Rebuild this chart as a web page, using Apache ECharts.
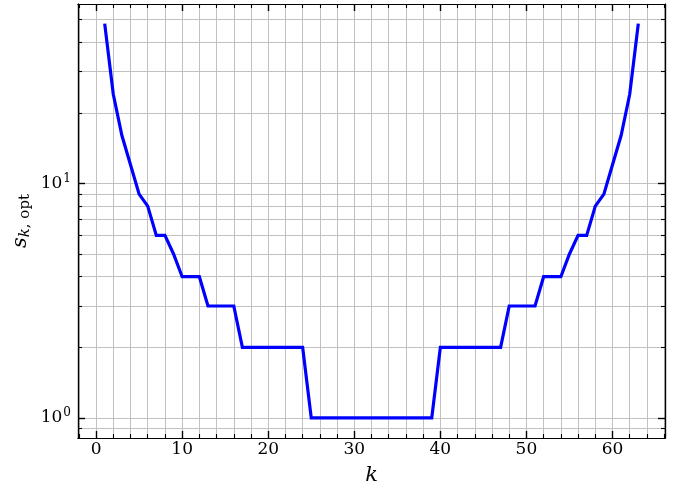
<!DOCTYPE html>
<html>
<head>
<meta charset="utf-8">
<script src="https://cdn.jsdelivr.net/npm/echarts@6/dist/echarts.min.js"></script>
<style>html,body{margin:0;padding:0;background:#fff;}#c{width:694px;height:491px;}</style>
</head>
<body>
<div id="c"></div>
<script>
const kValues = [1,2,3,4,5,6,7,8,9,10,11,12,13,14,15,16,17,18,19,20,21,22,23,24,25,26,27,28,29,30,31,32,33,34,35,36,37,38,39,40,41,42,43,44,45,46,47,48,49,50,51,52,53,54,55,56,57,58,59,60,61,62,63];
const sOpt = [48,24,16,12,9,8,6,6,5,4,4,4,3,3,3,3,2,2,2,2,2,2,2,2,1,1,1,1,1,1,1,1,1,1,1,1,1,1,1,2,2,2,2,2,2,2,2,3,3,3,3,4,4,4,5,6,6,8,9,12,16,24,48];
const xMajorTicks = [0,10,20,30,40,50,60];
const xMinorTicks = [-2,2,4,6,8,12,14,16,18,22,24,26,28,32,34,36,38,42,44,46,48,52,54,56,58,62,64,66];
const yMajorTicks = [1,10];
const yMinorTicks = [0.9,2,3,4,5,6,7,8,9,20,30,40,50];
const xRange = [-2.1, 66.1];
const yRange = [0.821, 58.2];

const FONT = 'DejaVu Serif';
const gridColor = '#bababa';
const data = kValues.map((k, i) => [k, sOpt[i]]);

function xAxisDef(pos, ticks, len, opts) {
  return Object.assign({
    type: 'value', position: pos, min: xRange[0], max: xRange[1],
    axisLine: { show: true, onZero: false, lineStyle: { color: '#000', width: 1.2 } },
    axisTick: { show: true, inside: true, length: len, customValues: ticks, lineStyle: { color: '#000', width: len > 5 ? 1.4 : 1.1 } },
    axisLabel: { show: false },
    splitLine: { show: false }
  }, opts || {});
}
function yAxisDef(pos, ticks, len, opts) {
  return Object.assign({
    type: 'log', logBase: 10, position: pos, min: yRange[0], max: yRange[1],
    axisLine: { show: true, onZero: false, lineStyle: { color: '#000', width: 1.2 } },
    axisTick: { show: true, inside: true, length: len, customValues: ticks, lineStyle: { color: '#000', width: len > 5 ? 1.4 : 1.1 } },
    axisLabel: { show: false },
    splitLine: { show: false }
  }, opts || {});
}

const chart = echarts.init(document.getElementById('c'), null, { renderer: 'canvas' });
chart.setOption({
  animation: false,
  backgroundColor: '#fff',
  grid: { left: 78, right: 29, top: 4, bottom: 53, containLabel: false, outerBoundsMode: 'none' },
  xAxis: [
    xAxisDef('bottom', xMajorTicks, 7, {
      name: 'k', nameLocation: 'middle', nameGap: 27, nameMoveOverlap: false,
      nameTextStyle: { fontFamily: FONT, fontStyle: 'italic', fontSize: 21, color: '#000' },
      axisLabel: { show: true, customValues: xMajorTicks, margin: 3, fontFamily: FONT, fontSize: 17, color: '#000' },
      splitLine: { show: true, lineStyle: { color: gridColor, width: 0.9 } }
    }),
    xAxisDef('bottom', xMinorTicks, 4, { splitLine: { show: true, lineStyle: { color: gridColor, width: 0.9 } } }),
    xAxisDef('top', xMajorTicks, 7),
    xAxisDef('top', xMinorTicks, 4)
  ],
  yAxis: [
    yAxisDef('left', yMajorTicks, 7, {
      name: '{s|s}{sub|k}{sub2|, opt}', nameLocation: 'middle', nameGap: 45, nameMoveOverlap: false,
      nameTextStyle: {
        color: '#000',
        rich: {
          s: { fontFamily: FONT, fontStyle: 'italic', fontSize: 21, color: '#000' },
          sub: { fontFamily: FONT, fontStyle: 'italic', fontSize: 15, color: '#000', padding: [9, 0, 0, 0] },
          sub2: { fontFamily: FONT, fontSize: 15, color: '#000', padding: [9, 0, 0, 0] }
        }
      },
      axisLabel: {
        show: true, customValues: yMajorTicks, margin: 7,
        formatter: function (v) { return '{b|10}{e|' + Math.round(Math.log10(v)) + '}'; },
        rich: {
          b: { fontFamily: FONT, fontSize: 17, color: '#000' },
          e: { fontFamily: FONT, fontSize: 12, color: '#000', padding: [0, 0, 10, 1] }
        }
      },
      splitLine: { show: true, lineStyle: { color: gridColor, width: 0.9 } }
    }),
    yAxisDef('left', yMinorTicks, 4, { splitLine: { show: true, lineStyle: { color: gridColor, width: 0.9 } } }),
    yAxisDef('right', yMajorTicks, 7),
    yAxisDef('right', yMinorTicks, 4)
  ],
  series: [{
    type: 'line', xAxisIndex: 0, yAxisIndex: 0,
    data: data, showSymbol: false, symbol: 'none',
    lineStyle: { color: '#0000ff', width: 3.2, join: 'miter' },
    z: 10
  }]
});
</script>
</body>
</html>
